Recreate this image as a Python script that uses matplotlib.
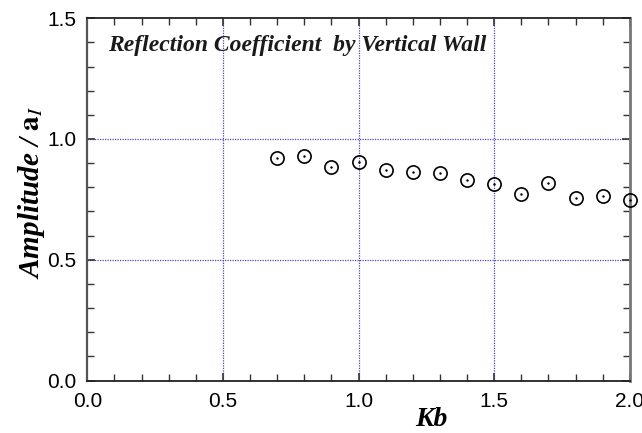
import numpy as np
import matplotlib
matplotlib.use('Agg')
import matplotlib.pyplot as plt
from matplotlib.ticker import MultipleLocator

# measured reflection coefficient
kb = [0.7, 0.8, 0.9, 1.0, 1.1, 1.2, 1.3, 1.4, 1.5, 1.6, 1.7, 1.8, 1.9, 2.0]
amp = [0.920, 0.930, 0.886, 0.904, 0.872, 0.862, 0.861, 0.829, 0.814,
       0.771, 0.817, 0.756, 0.762, 0.748]

x_ticks = [0.0, 0.5, 1.0, 1.5, 2.0]
y_ticks = [0.0, 0.5, 1.0, 1.5]

plt.rcParams['mathtext.fontset'] = 'stix'
serif = 'Liberation Serif'
sans = 'Liberation Sans'

fig = plt.figure(figsize=(6.42, 4.33), dpi=100)
ax = fig.add_axes([0.136, 0.121, 0.845, 0.837])

ax.plot(kb, amp, 'o', mfc='none', mec='black', ms=9.5, mew=1.2,
        clip_on=False, zorder=3)
ax.plot(kb, amp, '.', color='black', ms=1.5, clip_on=False, zorder=4)

ax.set_xlim(0, 2.0)
ax.set_ylim(0, 1.5)
ax.set_xticks(x_ticks)
ax.set_yticks(y_ticks)
ax.set_xticklabels([f'{v:.1f}' for v in x_ticks], fontfamily=sans, fontsize=15)
ax.set_yticklabels([f'{v:.1f}' for v in y_ticks], fontfamily=sans, fontsize=15)
ax.xaxis.set_minor_locator(MultipleLocator(0.1))
ax.yaxis.set_minor_locator(MultipleLocator(0.1))
ax.tick_params(which='both', direction='in', top=True, right=True,
               color='#333333')
ax.tick_params(which='major', length=6, width=1.2)
ax.tick_params(which='minor', length=5, width=1.0)
ax.tick_params(axis='x', which='major', pad=8)
ax.tick_params(axis='y', which='major', pad=8)

for gv in [0.5, 1.0, 1.5]:
    ax.axvline(gv, color='#4a4ab8', lw=0.9, ls=(0, (1, 1.0)), zorder=1)
for gv in [0.5, 1.0]:
    ax.axhline(gv, color='#4a4ab8', lw=0.9, ls=(0, (1, 1.0)), zorder=1)

for s in ['bottom', 'top']:
    ax.spines[s].set_linewidth(1.3)
    ax.spines[s].set_color('#222222')
ax.spines['left'].set_linewidth(1.6)
ax.spines['left'].set_color('#555555')
ax.spines['right'].set_linewidth(2.0)
ax.spines['right'].set_color('#777777')

ax.text(0.039, 0.925, 'Reflection Coefficient  by Vertical Wall',
        transform=ax.transAxes, fontfamily=serif, fontsize=17,
        fontweight='bold', fontstyle='italic', color='#1a1a1a',
        ha='left', va='center')

ax.set_xlabel('Kb', fontfamily=serif, fontsize=20, fontweight='bold',
              fontstyle='italic')
ax.xaxis.set_label_coords(0.635, -0.124)
ax.xaxis.label.set_verticalalignment('baseline')
ax.set_ylabel(r'Amplitude / $\mathbf{a}_{\mathit{I}}$', fontfamily=serif,
              fontsize=21, fontweight='bold', fontstyle='italic')
ax.yaxis.set_label_coords(-0.075, 0.52)

fig.savefig('out.png', dpi=100)
